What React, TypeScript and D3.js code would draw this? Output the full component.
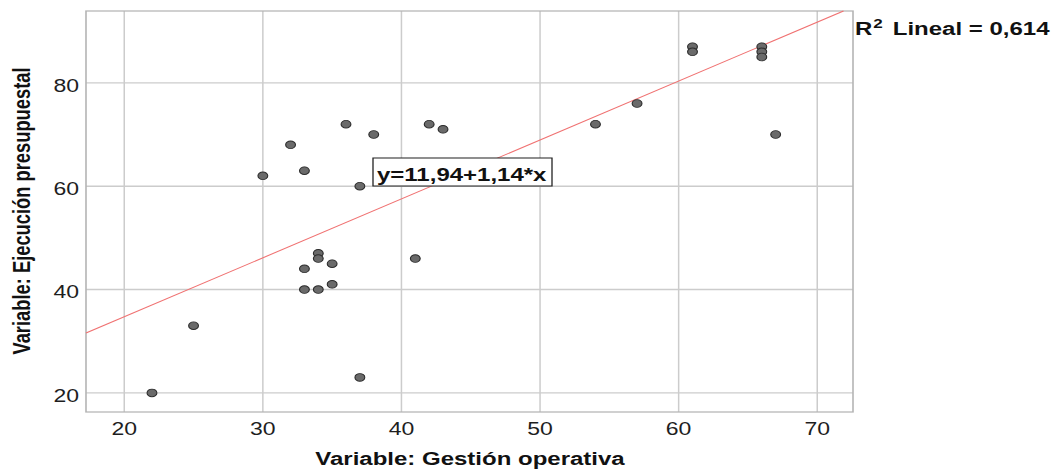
import * as d3 from 'd3';

// Gestión operativa (x) vs Ejecución presupuestal (y)
const gestion = [30, 32, 33, 36, 38, 37, 42, 43, 61, 61, 66, 66, 66, 54, 57, 67, 34, 34, 33, 35, 33, 34, 35, 41, 25, 22, 37];
const ejecucion = [62, 68, 63, 72, 70, 60, 72, 71, 87, 86, 87, 86, 85, 72, 76, 70, 47, 46, 44, 45, 40, 40, 41, 46, 33, 20, 23];

const xTicks = [20, 30, 40, 50, 60, 70];
const yTicks = [20, 40, 60, 80];

const intercept = 11.94;
const slope = 1.14;
const rSquared = '0,614';
const equationLabel = 'y=11,94+1,14*x';

const W = 1051;
const SQ = 0.78; // the picture is squashed vertically
const H = 473 / SQ;

const FONT = '"Liberation Sans", Arial, sans-serif';

export default function App() {
  const left = 86;
  const right = 853;
  const top = 11 / SQ;
  const bottom = 412 / SQ;

  const x = d3.scaleLinear().domain([17.24, 72.58]).range([left, right]);
  const y = d3.scaleLinear().domain([16.3, 93.9]).range([bottom, top]);

  // regression line, clipped to plot box
  const x0 = x.domain()[0];
  const x1 = Math.min(x.domain()[1], (y.domain()[1] - intercept) / slope);
  const fit = d3.line<number>()
    .x(d => x(d))
    .y(d => y(intercept + slope * d));

  const eqX = 373;
  const eqY = 158 / SQ;
  const eqW = 179;
  const eqH = 28 / SQ;

  return (
    <svg
      width={W}
      height={473}
      viewBox={`0 0 ${W} ${H}`}
      preserveAspectRatio="none"
      style={{ position: 'absolute', left: 0, top: 0, background: '#fff' }}
      fontFamily={FONT}
    >
      <rect x={0} y={0} width={W} height={H} fill="#fff" />
      {/* grid */}
      {xTicks.map(t => (
        <line key={'gx' + t} x1={x(t)} x2={x(t)} y1={top} y2={bottom} stroke="#cccccc" strokeWidth={1.5} />
      ))}
      {yTicks.map(t => (
        <line key={'gy' + t} x1={left} x2={right} y1={y(t)} y2={y(t)} stroke="#cccccc" strokeWidth={1.8} />
      ))}
      <rect x={left} y={top} width={right - left} height={bottom - top} fill="none" stroke="#b4b4b4" strokeWidth={1.6} />

      {/* fit line */}
      <path d={fit([x0, x1]) ?? ''} fill="none" stroke="#f07272" strokeWidth={1.3} />

      {/* equation box */}
      <rect x={eqX} y={eqY} width={eqW} height={eqH} fill="#fff" stroke="#222" strokeWidth={1.3} />
      <text x={eqX + 4} y={eqY + eqH - 7} fontSize={24} fontWeight="bold" fill="#111">{equationLabel}</text>

      {/* points */}
      {gestion.map((g, i) => (
        <circle key={i} cx={x(g)} cy={y(ejecucion[i])} r={4.9} fill="#6a6a6a" stroke="#2b2b2b" strokeWidth={1.1} />
      ))}

      {/* tick labels */}
      {xTicks.map(t => (
        <text key={'tx' + t} x={x(t)} y={435 / SQ} textAnchor="middle" fontSize={23} fill="#1e1e1e">{t}</text>
      ))}
      {yTicks.map(t => (
        <text key={'ty' + t} x={79} y={y(t) + 11.5} textAnchor="end" fontSize={23} fill="#1e1e1e">{t}</text>
      ))}

      {/* axis titles */}
      <text x={470} y={465 / SQ} textAnchor="middle" fontSize={24} fontWeight="bold" fill="#111">
        Variable: Gestión operativa
      </text>
      <text
        transform={`translate(30,${211 / SQ}) rotate(-90)`}
        textAnchor="middle"
        fontSize={23.5}
        fontWeight="bold"
        fill="#111"
      >
        Variable: Ejecución presupuestal
      </text>

      {/* R squared */}
      <text x={855} y={35 / SQ} fontSize={24} fontWeight="bold" fill="#111">
        R<tspan fontSize={17} dx={1} dy={-9}>2</tspan><tspan dx={10} dy={9}>Lineal = {rSquared}</tspan>
      </text>
    </svg>
  );
}
